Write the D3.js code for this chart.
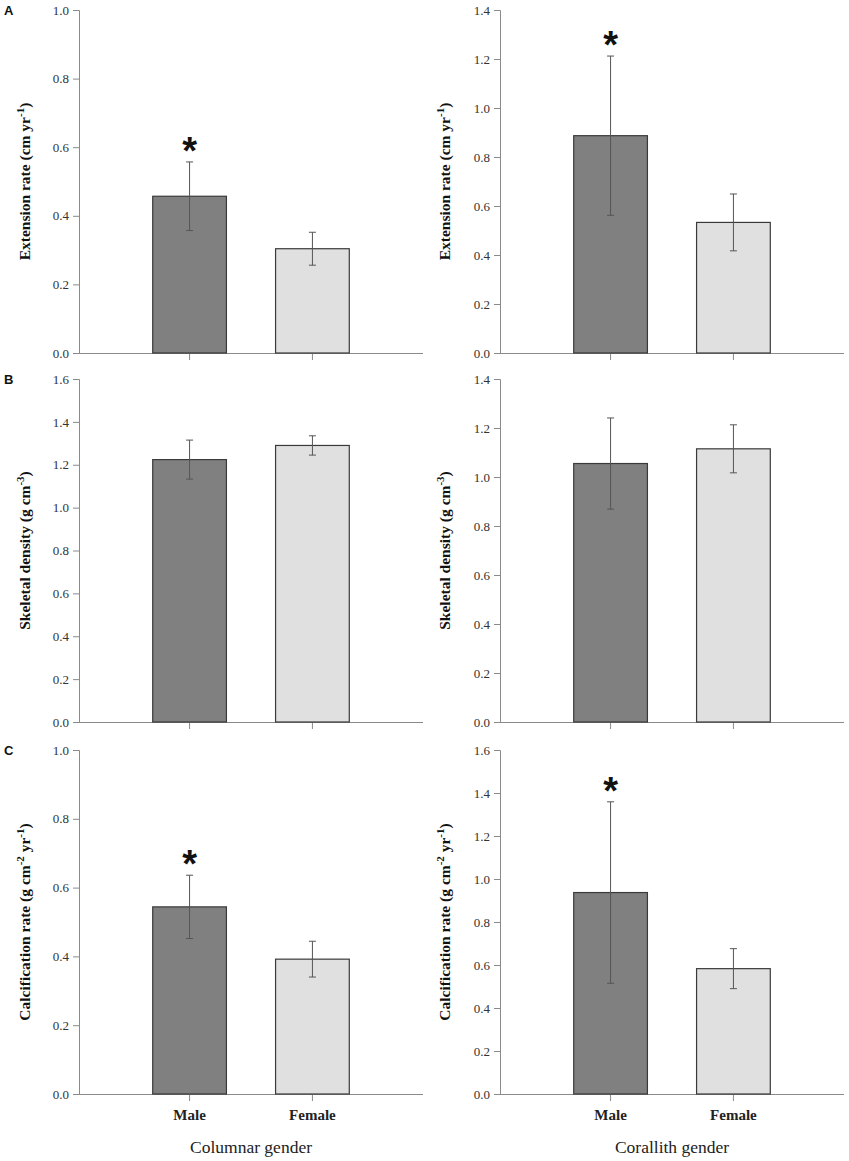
<!DOCTYPE html>
<html>
<head>
<meta charset="utf-8">
<script src="https://cdn.jsdelivr.net/npm/d3@7"></script>
<style>
  body { margin: 0; background: #fff; }
  svg { display: block; }
</style>
</head>
<body>
<script>
// Categories on every x axis
const categories = ['Male', 'Female'];

// Means and standard errors (Male, Female)
const extColumnar = [0.457, 0.304];
const extColumnarSE = [0.100, 0.048];
const extCorallith = [0.887, 0.533];
const extCorallithSE = [0.325, 0.116];

const densColumnar = [1.224, 1.290];
const densColumnarSE = [0.091, 0.045];
const densCorallith = [1.055, 1.115];
const densCorallithSE = [0.186, 0.098];

const calcColumnar = [0.544, 0.392];
const calcColumnarSE = [0.092, 0.052];
const calcCorallith = [0.937, 0.583];
const calcCorallithSE = [0.422, 0.093];

// Upper limits of the y axes
const yMaxColumnar = [1.0, 1.6, 1.0];
const yMaxCorallith = [1.4, 1.4, 1.6];

// Which rows have a significance star on the male bar
const significant = [true, false, true];

const rowLetters = ['A', 'B', 'C'];
const xTitles = ['Columnar gender', 'Corallith gender'];
const barColors = ['#808080', '#e0e0e0'];

// y titles: [text, 'sup' for superscript]
const yTitles = [
    [['Extension rate (cm yr', ''], ['-1', 'sup'], [')', '']],
    [['Skeletal density (g cm', ''], ['-3', 'sup'], [')', '']],
    [['Calcification rate (g cm', ''], ['-2', 'sup'], [' yr', ''], ['-1', 'sup'], [')', '']]
];

// Layout
const columns = [{ x0: 79, x1: 423, titleX: 30 }, { x0: 500, x1: 844, titleX: 450 }];
const rows = [{ y0: 10, y1: 353 }, { y0: 379, y1: 722 }, { y0: 750, y1: 1094 }];

const panels = [];
const meansByRow = [[extColumnar, extCorallith], [densColumnar, densCorallith], [calcColumnar, calcCorallith]];
const seByRow = [[extColumnarSE, extCorallithSE], [densColumnarSE, densCorallithSE], [calcColumnarSE, calcCorallithSE]];
const yMaxByRow = [[yMaxColumnar[0], yMaxCorallith[0]], [yMaxColumnar[1], yMaxCorallith[1]], [yMaxColumnar[2], yMaxCorallith[2]]];
rows.forEach((r, ri) => {
    columns.forEach((c, ci) => {
        panels.push({
            row: ri, col: ci,
            x0: c.x0, x1: c.x1, y0: r.y0, y1: r.y1, titleX: c.titleX,
            yMax: yMaxByRow[ri][ci],
            data: categories.map((cat, i) => ({ cat, mean: meansByRow[ri][ci][i], se: seByRow[ri][ci][i], idx: i }))
        });
    });
});

const svg = d3.select('body').append('svg')
    .attr('width', 849)
    .attr('height', 1161);

const serif = '"Liberation Serif", "Times New Roman", serif';
const sans = '"Liberation Sans", Arial, sans-serif';

function drawPanel(p) {
    const g = svg.append('g');

    const x = d3.scaleBand()
        .domain(categories)
        .range([p.x0, p.x1])
        .paddingInner(0.4)
        .paddingOuter(0.6);

    const y = d3.scaleLinear()
        .domain([0, p.yMax])
        .range([p.y1, p.y0]);

    // Y axis
    const yAxis = g.append('g')
        .attr('transform', `translate(${p.x0},0)`)
        .attr('font-family', serif)
        .attr('font-size', 13)
        .call(d3.axisLeft(y)
            .tickValues(d3.range(0, p.yMax + 0.001, 0.2))
            .tickFormat(d3.format('.1f'))
            .tickSizeOuter(0)
            .tickSize(6)
            .tickPadding(4));
    yAxis.attr('font-family', serif).attr('font-size', 13);
    yAxis.select('.domain').attr('stroke', '#8a8a8a');
    yAxis.selectAll('.tick line').attr('stroke', '#8a8a8a');
    yAxis.selectAll('.tick text').attr('fill', '#333');

    // X axis
    const xAxis = g.append('g')
        .attr('transform', `translate(0,${p.y1})`)
        .call(d3.axisBottom(x).tickSizeOuter(0).tickSize(7).tickPadding(8));
    xAxis.attr('font-family', serif).attr('font-size', 15).attr('font-weight', 'bold');
    xAxis.select('.domain').attr('stroke', '#8a8a8a')
        .attr('d', `M${p.x0 - 6},0.5H${p.x1}`);
    xAxis.selectAll('.tick line').attr('stroke', '#8a8a8a');
    xAxis.selectAll('.tick text')
        .attr('fill', '#222')
        .style('display', p.row === 2 ? null : 'none');

    // Bars
    g.selectAll('.bar')
        .data(p.data)
        .enter()
        .append('rect')
        .attr('class', 'bar')
        .attr('x', d => x(d.cat))
        .attr('y', d => y(d.mean))
        .attr('width', x.bandwidth())
        .attr('height', d => y(0) - y(d.mean))
        .attr('fill', d => barColors[d.idx])
        .attr('stroke', '#3a3a3a')
        .attr('stroke-width', 1.2);

    // Error bars
    const cx = d => x(d.cat) + x.bandwidth() / 2;
    const err = g.selectAll('.err')
        .data(p.data)
        .enter()
        .append('g')
        .attr('class', 'err')
        .attr('stroke', '#555')
        .attr('stroke-width', 1);
    err.append('line')
        .attr('x1', cx).attr('x2', cx)
        .attr('y1', d => y(d.mean + d.se))
        .attr('y2', d => y(d.mean - d.se));
    err.append('line')
        .attr('x1', d => cx(d) - 3.5).attr('x2', d => cx(d) + 3.5)
        .attr('y1', d => y(d.mean + d.se))
        .attr('y2', d => y(d.mean + d.se));
    err.append('line')
        .attr('x1', d => cx(d) - 3.5).attr('x2', d => cx(d) + 3.5)
        .attr('y1', d => y(d.mean - d.se))
        .attr('y2', d => y(d.mean - d.se));

    // Significance star on the male bar
    if (significant[p.row]) {
        const m = p.data[0];
        g.append('text')
            .attr('x', cx(m))
            .attr('y', y(m.mean + m.se) + 2)
            .attr('text-anchor', 'middle')
            .style('font-family', sans)
            .style('font-weight', 'bold')
            .style('font-size', '38px')
            .attr('fill', '#111')
            .text('*');
    }

    // Y axis title
    const cy = (p.y0 + p.y1) / 2;
    const t = g.append('text')
        .attr('transform', `translate(${p.titleX},${cy}) rotate(-90)`)
        .attr('text-anchor', 'middle')
        .style('font-family', serif)
        .style('font-weight', 'bold')
        .style('font-size', '15.5px')
        .attr('fill', '#111');
    yTitles[p.row].forEach(([txt, kind], i) => {
        const span = t.append('tspan').text(txt);
        if (kind === 'sup') {
            span.attr('dy', -6).style('font-size', '11px');
        } else if (i > 0) {
            span.attr('dy', 6);
        }
    });

    // Panel letter
    if (p.col === 0) {
        g.append('text')
            .attr('x', 4)
            .attr('y', p.y0 + 5)
            .style('font-family', sans)
            .style('font-weight', 'bold')
            .style('font-size', '13px')
            .attr('fill', '#111')
            .text(rowLetters[p.row]);
    }

    // X axis title on the bottom row
    if (p.row === 2) {
        g.append('text')
            .attr('x', (p.x0 + p.x1) / 2)
            .attr('y', 1153)
            .attr('text-anchor', 'middle')
            .style('font-family', serif)
            .style('font-size', '17.5px')
            .attr('fill', '#222')
            .text(xTitles[p.col]);
    }
}

panels.forEach(drawPanel);
</script>
</body>
</html>
